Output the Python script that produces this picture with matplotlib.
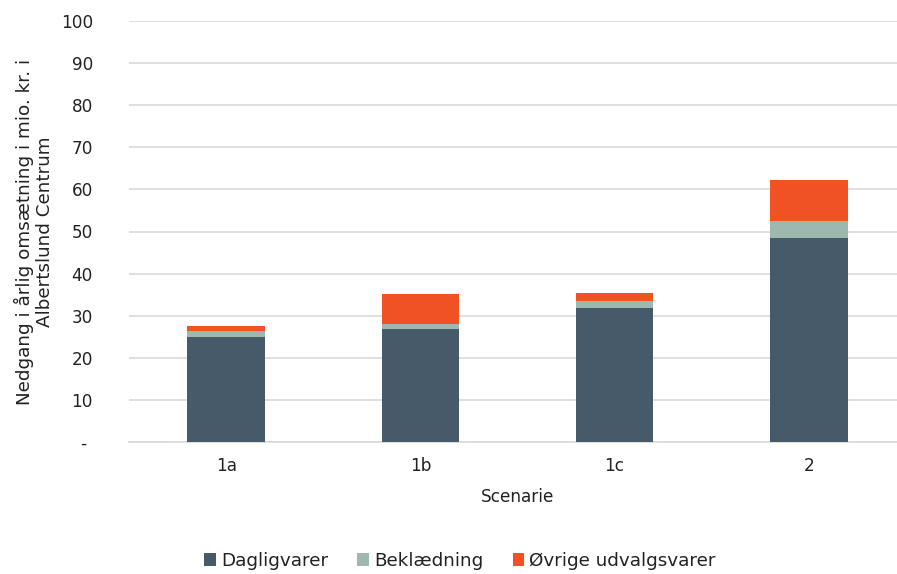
import matplotlib
matplotlib.use("Agg")
import matplotlib.pyplot as plt
import numpy as np

categories = ["1a", "1b", "1c", "2"]
dagligvarer = [25.0, 26.8, 31.9, 48.5]
beklaedning = [1.3, 1.3, 1.7, 4.0]
ovrige = [1.3, 7.0, 1.7, 9.7]
series_names = ["Dagligvarer", "Beklædning", "Øvrige udvalgsvarer"]
yticks = [0, 10, 20, 30, 40, 50, 60, 70, 80, 90, 100]
ytick_labels = ["- ", "10", "20", "30", "40", "50", "60", "70", "80", "90", "100"]

colors = ["#465a69", "#9db8ae", "#f05223"]
tc = '#222222'
fs = 12.2

plt.rcParams['font.family'] = ['DejaVu Sans']
fig = plt.figure(figsize=(8.97, 5.74), dpi=100)
W, H = 897, 574
ax = fig.add_axes([129 / W, 1 - 442 / H, 777 / W, 421 / H])

x = np.arange(len(categories))
w = 0.40
b1 = np.array(dagligvarer)
b2 = b1 + np.array(beklaedning)
ax.bar(x, dagligvarer, w, color=colors[0], label=series_names[0], zorder=3)
ax.bar(x, beklaedning, w, bottom=b1, color=colors[1], label=series_names[1], zorder=3)
ax.bar(x, ovrige, w, bottom=b2, color=colors[2], label=series_names[2], zorder=3)

ax.set_xlim(-0.5, 3.5)
ax.set_ylim(0, 100)
ax.set_yticks(yticks)
ax.set_yticklabels(ytick_labels)
ax.set_xticks(x)
ax.set_xticklabels(categories)
ax.grid(axis='y', color='#d9d9d9', linewidth=1.2, zorder=0)
for s in ['top', 'right', 'left']:
    ax.spines[s].set_visible(False)
ax.spines['bottom'].set_color('#d9d9d9')
ax.spines['bottom'].set_linewidth(1.2)
ax.tick_params(axis='both', length=0, labelsize=fs, colors=tc)
ax.tick_params(axis='y', pad=26)
ax.tick_params(axis='x', pad=11)

ax.set_xlabel("Scenarie", fontsize=fs, color=tc, labelpad=9)
ax.set_ylabel("Nedgang i årlig omsætning i mio. kr. i\nAlbertslund Centrum", fontsize=13.2,
              color=tc, labelpad=5, linespacing=1.15)

leg = fig.legend(loc='center', ncol=3, frameon=False,
                 fontsize=13.2, handlelength=0.65, handleheight=0.65, handletextpad=0.25, columnspacing=1.6,
                 bbox_to_anchor=(460 / W, 1 - 561 / H), bbox_transform=fig.transFigure)
for t in leg.get_texts():
    t.set_color(tc)

fig.savefig("out.png", dpi=100)
